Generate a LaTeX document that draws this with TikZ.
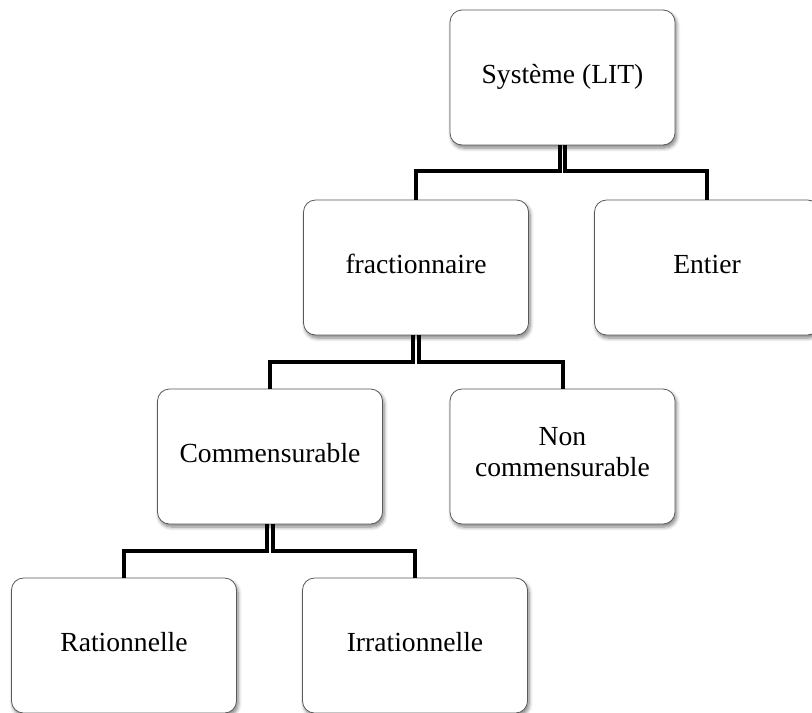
\documentclass[tikz,border=0pt]{standalone}
\usepackage{fontspec}
\setmainfont{Liberation Serif}
\usetikzlibrary{shadows.blur}
\tikzset{
  cls/.style={draw=black!65, fill=white, rounded corners=6pt, minimum width=112.5pt, minimum height=67.5pt,
    align=center, inner sep=2pt, font=\fontsize{13.8}{15.5}\selectfont, execute at begin node=\strut,
    blur shadow={shadow blur steps=6, shadow xshift=0.8pt, shadow yshift=-1.5pt, shadow opacity=50}},
  conn/.style={line width=2pt, black},
}
\begin{document}
\begin{tikzpicture}[x=0.5pt,y=-0.5pt]
\useasboundingbox (0,0) rectangle (812,712);
\node[cls] (sys) at (562.5,77.5) {Système (LIT)};
\node[cls] (frac) at (416,267.5) {fractionnaire};
\node[cls] (ent) at (707,267.5) {Entier};
\node[cls] (comm) at (270,456.5) {Commensurable};
\node[cls] (noncomm) at (562.5,456.5) {Non\\commensurable};
\node[cls] (rat) at (124,645.5) {Rationnelle};
\node[cls] (irr) at (415,645.5) {Irrationnelle};
% branches
\draw[conn] ([xshift=-1.3pt]sys.south) -- ++(0,-13pt) -| (frac.north);
\draw[conn] ([xshift=1.3pt]sys.south) -- ++(0,-13pt) -| (ent.north);
\draw[conn] ([xshift=-1.3pt]frac.south) -- ++(0,-13.5pt) -| (comm.north);
\draw[conn] ([xshift=1.3pt]frac.south) -- ++(0,-13.5pt) -| (noncomm.north);
\draw[conn] ([xshift=-1.3pt]comm.south) -- ++(0,-13.5pt) -| (rat.north);
\draw[conn] ([xshift=1.3pt]comm.south) -- ++(0,-13.5pt) -| (irr.north);
\end{tikzpicture}
\end{document}
